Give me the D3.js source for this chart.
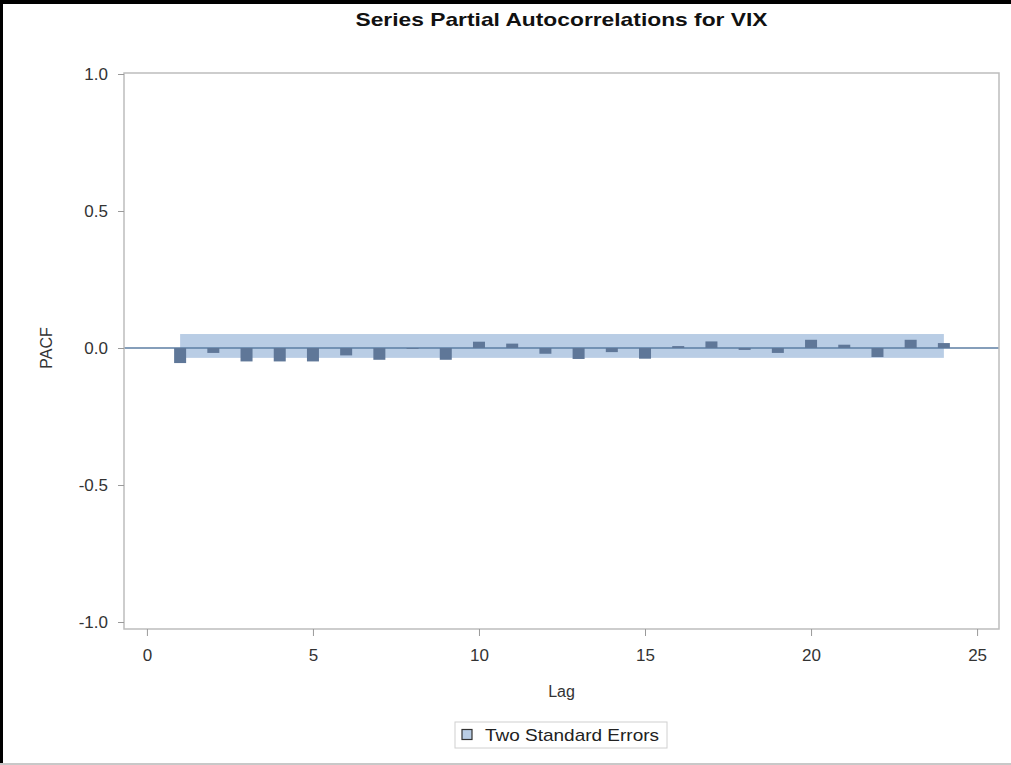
<!DOCTYPE html>
<html><head><meta charset="utf-8">
<script src="https://cdn.jsdelivr.net/npm/d3@7"></script>
<style>body{margin:0;background:#fff;} svg{display:block;font-family:"Liberation Sans",Arial,sans-serif;}</style>
</head><body>
<script>
const lags = [1,2,3,4,5,6,7,8,9,10,11,12,13,14,15,16,17,18,19,20,21,22,23,24];
const pacf = [-0.055,-0.018,-0.049,-0.049,-0.049,-0.027,-0.043,0.0,-0.043,0.023,0.016,-0.021,-0.040,-0.015,-0.039,0.007,0.024,-0.007,-0.018,0.030,0.012,-0.033,0.030,0.018];
const bandUpper = 0.051;
const bandLower = -0.036;
const xTicks = [0,5,10,15,20,25];
const yTicks = [-1.0,-0.5,0.0,0.5,1.0];
const title = "Series Partial Autocorrelations for VIX";

const W = 1011, H = 765;
const FONT = '"Liberation Sans",Arial,sans-serif';
const svg = d3.select("body").append("svg").attr("width", W).attr("height", H);
svg.append("rect").attr("width", W).attr("height", H).attr("fill", "#fff");
svg.append("rect").attr("x",0).attr("y",0).attr("width",W).attr("height",4).attr("fill","#000");
svg.append("rect").attr("x",0).attr("y",0).attr("width",3).attr("height",H).attr("fill","#000");
svg.append("rect").attr("x",0).attr("y",H-2).attr("width",W).attr("height",2).attr("fill","#c8c8c8");

const L = 124, R = 999, T = 73, B = 629;
const x = d3.scaleLinear().domain([-0.69, 25.66]).range([L, R]);
const y = d3.scaleLinear().domain([1.0, -1.0]).range([74, 622]);

svg.append("rect")
  .attr("x", x(lags[0])).attr("width", x(lags[lags.length-1]) - x(lags[0]))
  .attr("y", y(bandUpper)).attr("height", y(bandLower) - y(bandUpper))
  .attr("fill", "#b9cde5");

svg.append("line").attr("x1", L).attr("x2", R).attr("y1", y(0)).attr("y2", y(0))
  .attr("stroke", "#5d7ea3").attr("stroke-width", 1.3);

const bw = 12;
svg.selectAll("rect.bar").data(lags).enter().append("rect").attr("class","bar")
  .attr("x", d => x(d) - bw/2).attr("width", bw)
  .attr("y", (d,i) => Math.min(y(0), y(pacf[i])))
  .attr("height", (d,i) => Math.max(0.8, Math.abs(y(pacf[i]) - y(0))))
  .attr("fill", "#5f7798");

svg.append("rect").attr("x", L).attr("y", T).attr("width", R-L).attr("height", B-T)
  .attr("fill", "none").attr("stroke", "#bdbdbd").attr("stroke-width", 1.5);

const yAxis = d3.axisLeft(y).tickValues(yTicks).tickFormat(d => d.toFixed(1)).tickSize(6).tickPadding(10);
const gy = svg.append("g").attr("transform", `translate(${L},0)`).call(yAxis)
  .attr("font-family", FONT).attr("font-size", 17);
gy.select(".domain").remove();
gy.selectAll("line").attr("stroke", "#9a9a9a");
gy.selectAll("text").attr("fill", "#333");

const xAxis = d3.axisBottom(x).tickValues(xTicks).tickFormat(d => String(d)).tickSize(7).tickPadding(13);
const gx = svg.append("g").attr("transform", `translate(0,${B})`).call(xAxis)
  .attr("font-family", FONT).attr("font-size", 17);
gx.select(".domain").remove();
gx.selectAll("line").attr("stroke", "#9a9a9a");
gx.selectAll("text").attr("fill", "#333");

svg.append("text").attr("x", (L+R)/2).attr("y", 26).attr("text-anchor","middle")
  .attr("font-size", 19).attr("font-weight","bold").attr("fill","#111")
  .attr("textLength", 412).attr("lengthAdjust","spacingAndGlyphs").text(title);
svg.append("text").attr("transform", `translate(46,${y(0)}) rotate(-90)`).attr("text-anchor","middle")
  .attr("dy", "0.35em").attr("font-size", 16).attr("fill","#333").text("PACF");
svg.append("text").attr("x", (L+R)/2).attr("y", 697).attr("text-anchor","middle")
  .attr("font-size", 16).attr("fill","#333").text("Lag");

const lg = svg.append("g");
lg.append("rect").attr("x", 455).attr("y", 722).attr("width", 212).attr("height", 26)
  .attr("fill","#fff").attr("stroke","#d0d0d0");
lg.append("rect").attr("x", 462).attr("y", 729.5).attr("width", 10).attr("height", 10)
  .attr("fill","#b9cde5").attr("stroke","#333").attr("stroke-width",1.2);
lg.append("text").attr("x", 485).attr("y", 741).attr("font-size", 17).attr("fill","#222")
  .attr("textLength", 174).attr("lengthAdjust","spacingAndGlyphs")
  .text("Two Standard Errors");
</script>
</body></html>
